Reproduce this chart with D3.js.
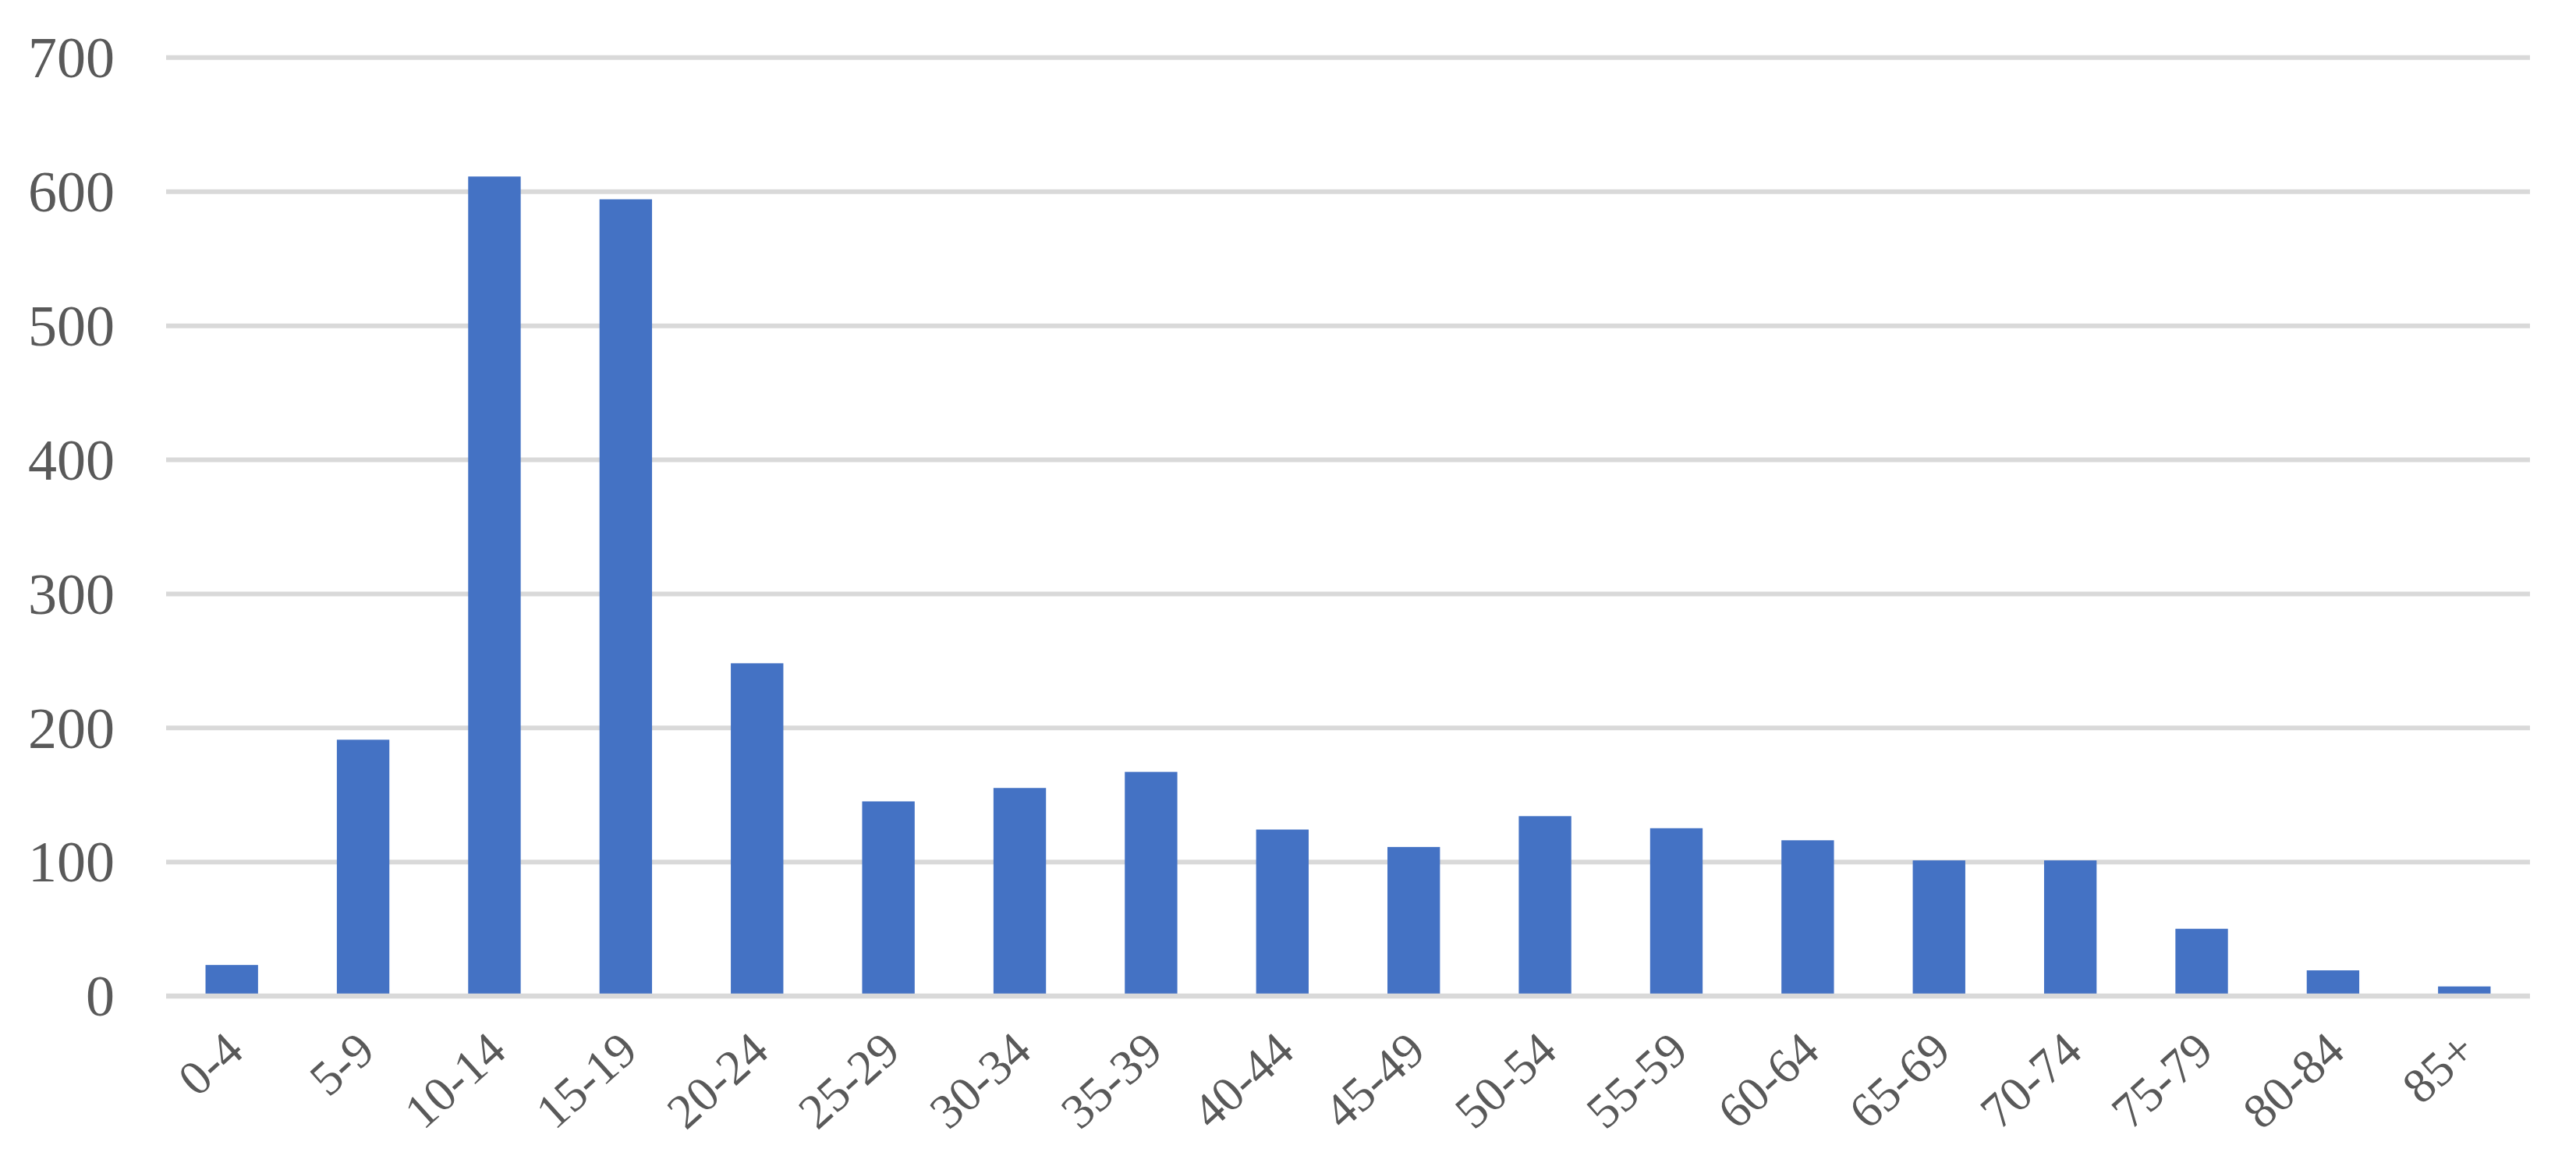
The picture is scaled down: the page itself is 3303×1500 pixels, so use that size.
<!DOCTYPE html>
<html>
<head>
<meta charset="utf-8">
<script src="https://cdn.jsdelivr.net/npm/d3@7"></script>
<style>
  html, body { margin: 0; padding: 0; background: #ffffff; }
  svg { display: block; }
</style>
</head>
<body>
<script>
// ---- data ----
const categories = ["0-4","5-9","10-14","15-19","20-24","25-29","30-34","35-39","40-44","45-49","50-54","55-59","60-64","65-69","70-74","75-79","80-84","85+"];
const values = [23, 191, 611, 594, 248, 145, 155, 167, 124, 111, 134, 125, 116, 101, 101, 50, 19, 7];
const yTicks = [0, 100, 200, 300, 400, 500, 600, 700];

// ---- layout ----
const W = 3303, H = 1500;
const plot = { left: 213, right: 3244, top: 73.3, bottom: 1276.7 };

const svg = d3.select("body").append("svg")
  .attr("width", W).attr("height", H)
  .attr("viewBox", `0 0 ${W} ${H}`);

svg.append("rect").attr("width", W).attr("height", H).attr("fill", "#ffffff");

const x = d3.scaleBand()
  .domain(categories)
  .range([plot.left, plot.right])
  .paddingInner(0.6)
  .paddingOuter(0.3);

const y = d3.scaleLinear()
  .domain([0, 700])
  .range([plot.bottom, plot.top]);

// gridlines
const yAxis = d3.axisLeft(y)
  .tickValues(yTicks)
  .tickSize(-(plot.right - plot.left))
  .tickFormat(d3.format("d"))
  .tickPadding(66);

const gy = svg.append("g")
  .attr("transform", `translate(${plot.left},0)`)
  .call(yAxis);
gy.select(".domain").remove();
gy.selectAll(".tick line")
  .attr("stroke", "#d9d9d9")
  .attr("stroke-width", 6);
gy.selectAll(".tick text")
  .attr("fill", "#595959")
  .attr("font-family", "'Liberation Serif', 'Times New Roman', serif")
  .attr("font-size", 74)
  .attr("dy", "0.34em");

// bars
svg.append("g").selectAll("rect")
  .data(values)
  .join("rect")
  .attr("x", (d, i) => x(categories[i]))
  .attr("width", x.bandwidth())
  .attr("y", d => y(d))
  .attr("height", d => y(0) - y(d))
  .attr("fill", "#4472c4");

// zero axis line on top
svg.append("line")
  .attr("x1", plot.left).attr("x2", plot.right)
  .attr("y1", y(0)).attr("y2", y(0))
  .attr("stroke", "#d9d9d9")
  .attr("stroke-width", 6);

// x labels
const xAxis = d3.axisBottom(x).tickSize(0).tickPadding(0);
const gx = svg.append("g")
  .attr("transform", `translate(0,${plot.bottom})`)
  .call(xAxis);
gx.select(".domain").remove();
gx.selectAll(".tick text")
  .attr("fill", "#595959")
  .attr("font-family", "'Liberation Serif', 'Times New Roman', serif")
  .attr("font-size", 63)
  .attr("text-anchor", "end")
  .attr("dy", 0)
  .attr("transform", "translate(18,75) rotate(-42)");
</script>
</body>
</html>
